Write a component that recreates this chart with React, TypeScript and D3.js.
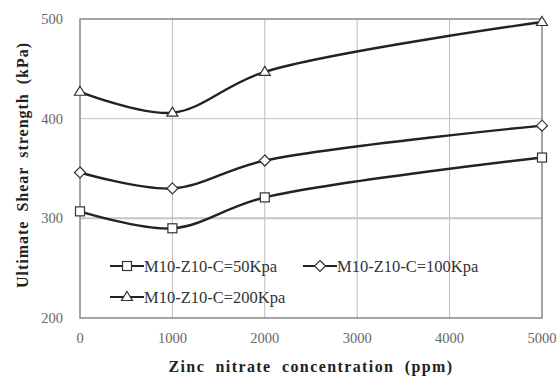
import React from 'react';
import * as d3 from 'd3';

// values
const concentrations = [0, 1000, 2000, 5000];
const c50 = [307, 290, 321, 361];
const c100 = [346, 330, 358, 393];
const c200 = [427, 406, 447, 497];
const seriesNames = ['M10-Z10-C=50Kpa', 'M10-Z10-C=100Kpa', 'M10-Z10-C=200Kpa'];
const xTicks = [0, 1000, 2000, 3000, 4000, 5000];
const yTicks = [200, 300, 400, 500];

const W = 559;
const H = 378;
const margin = { top: 19, right: 17, bottom: 60, left: 80 };
const FONT = "'Liberation Serif', 'Times New Roman', 'DejaVu Serif', serif";

const Marker = ({ kind, x, y }: { kind: string; x: number; y: number }) => {
  const s = 4.5;
  if (kind === 'square') {
    return <rect x={x - s} y={y - s} width={s * 2} height={s * 2} fill="#fff" stroke="#333" strokeWidth={1.2} />;
  }
  if (kind === 'diamond') {
    const p = `${x},${y - s - 1} ${x + s + 1},${y} ${x},${y + s + 1} ${x - s - 1},${y}`;
    return <polygon points={p} fill="#fff" stroke="#333" strokeWidth={1.2} />;
  }
  const p = `${x},${y - s - 1} ${x + s + 1},${y + s - 1} ${x - s - 1},${y + s - 1}`;
  return <polygon points={p} fill="#fff" stroke="#333" strokeWidth={1.2} />;
};

export default function App() {
  const innerW = W - margin.left - margin.right;
  const innerH = H - margin.top - margin.bottom;

  const x = d3.scaleLinear().domain([0, 5000]).range([margin.left, margin.left + innerW]);
  const y = d3.scaleLinear().domain([200, 500]).range([margin.top + innerH, margin.top]);

  const line = d3
    .line<number>()
    .x((_, i) => x(concentrations[i]))
    .y((d) => y(d))
    .curve(d3.curveCatmullRom.alpha(0.5));

  const series = [
    { name: seriesNames[0], values: c50, kind: 'square' },
    { name: seriesNames[1], values: c100, kind: 'diamond' },
    { name: seriesNames[2], values: c200, kind: 'triangle' },
  ];

  const legend = [
    { ...series[0], lx: 110, ly: 266 },
    { ...series[1], lx: 303, ly: 266 },
    { ...series[2], lx: 110, ly: 297 },
  ];

  const txt = { fontFamily: FONT } as React.CSSProperties;

  return (
    <svg width={W} height={H} style={{ position: 'absolute', left: 0, top: 0, background: '#fff' }}>
      {/* grid */}
      {xTicks.slice(1, -1).map((t) => (
        <line key={'gx' + t} x1={x(t)} x2={x(t)} y1={y(500)} y2={y(200)} stroke="#bbb" strokeWidth={1} />
      ))}
      {yTicks.slice(1, -1).map((t) => (
        <line key={'gy' + t} x1={x(0)} x2={x(5000)} y1={y(t)} y2={y(t)} stroke="#c4c4c4" strokeWidth={t === 300 ? 2 : 1} />
      ))}
      <rect x={x(0)} y={y(500)} width={innerW} height={innerH} fill="none" stroke="#888" strokeWidth={1.5} />

      {/* ticks */}
      {yTicks.map((t) => (
        <text key={'ty' + t} x={63} y={y(t)} dy="0.35em" textAnchor="end" style={txt} fontSize={14.5} fill="#666">
          {t}
        </text>
      ))}
      {xTicks.map((t) => (
        <text key={'tx' + t} x={x(t)} y={338} dy="0.35em" textAnchor="middle" style={txt} fontSize={14.5} fill="#666">
          {t}
        </text>
      ))}

      {/* series */}
      {series.map((s) => (
        <g key={s.name}>
          <path d={line(s.values) || ''} fill="none" stroke="#222" strokeWidth={2.4} />
          {s.values.map((v, i) => (
            <Marker key={i} kind={s.kind} x={x(concentrations[i])} y={y(v)} />
          ))}
        </g>
      ))}

      {/* legend */}
      {legend.map((l) => (
        <g key={'l' + l.name}>
          <line x1={l.lx} x2={l.lx + 34} y1={l.ly} y2={l.ly} stroke="#222" strokeWidth={2} />
          <Marker kind={l.kind} x={l.lx + 17} y={l.ly} />
          <text x={l.lx + 34} y={l.ly} dy="0.35em" style={txt} fontSize={16.5} fill="#333">
            {l.name}
          </text>
        </g>
      ))}

      {/* axis titles */}
      <text
        x={311}
        y={366}
        dy="0.35em"
        textAnchor="middle"
        style={{ ...txt, wordSpacing: '5px', letterSpacing: '1.4px' }}
        fontSize={16}
        fontWeight="bold"
        fill="#222"
      >
        Zinc nitrate concentration (ppm)
      </text>
      <text
        transform="translate(22, 165) rotate(-90)"
        dy="0.35em"
        textAnchor="middle"
        style={{ ...txt, wordSpacing: '4px', letterSpacing: '1px' }}
        fontSize={16}
        fontWeight="bold"
        fill="#222"
      >
        Ultimate Shear strength (kPa)
      </text>
    </svg>
  );
}
